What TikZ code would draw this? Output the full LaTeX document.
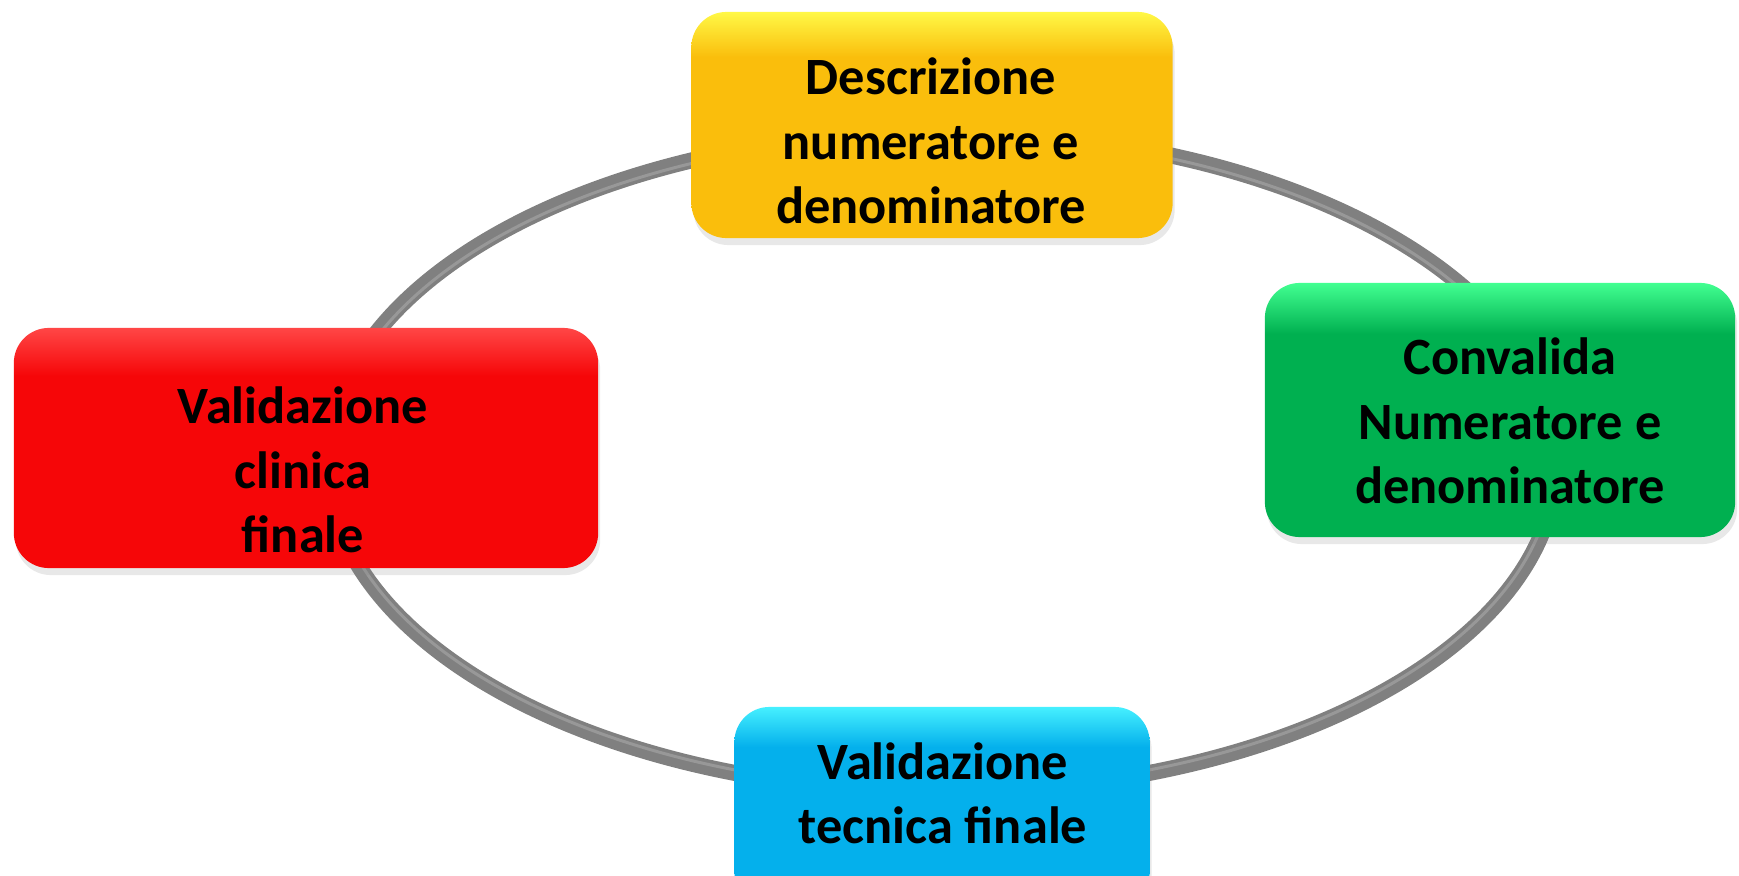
\documentclass[tikz,border=0pt]{standalone}
\usepackage{fontspec}
\setmainfont{Carlito}
\usetikzlibrary{positioning,shadows}

\definecolor{goldbase}{RGB}{250,190,12}
\definecolor{goldtop}{RGB}{255,248,70}
\definecolor{greenbase}{RGB}{0,176,80}
\definecolor{greentop}{RGB}{66,255,145}
\definecolor{redbase}{RGB}{246,6,8}
\definecolor{redtop}{RGB}{255,70,70}
\definecolor{bluebase}{RGB}{4,176,236}
\definecolor{bluetop}{RGB}{70,240,255}
\definecolor{ringgray}{RGB}{128,128,128}
\definecolor{ringlight}{RGB}{152,152,152}

\pgfdeclareverticalshading{glossgold}{100bp}{color(0bp)=(goldbase); color(25bp)=(goldbase); color(65bp)=(goldbase); color(75bp)=(goldtop); color(100bp)=(goldtop)}
\pgfdeclareverticalshading{glossgreen}{100bp}{color(0bp)=(greenbase); color(25bp)=(greenbase); color(65bp)=(greenbase); color(75bp)=(greentop); color(100bp)=(greentop)}
\pgfdeclareverticalshading{glossred}{100bp}{color(0bp)=(redbase); color(25bp)=(redbase); color(65bp)=(redbase); color(75bp)=(redtop); color(100bp)=(redtop)}
\pgfdeclareverticalshading{glossblue}{100bp}{color(0bp)=(bluebase); color(25bp)=(bluebase); color(65bp)=(bluebase); color(75bp)=(bluetop); color(100bp)=(bluetop)}

\tikzset{
	stage/.style={rounded corners=0.35cm, inner sep=0pt, shade,
		drop shadow={opacity=0.18, shadow xshift=0.02cm, shadow yshift=-0.07cm}},
	lbl/.style={align=center, inner sep=0pt, font=\fontsize{14.9}{18.3}\selectfont\bfseries},
}

\begin{document}
\begin{tikzpicture}[x=0.01cm,y=-0.01cm]
		\useasboundingbox (0,0) rectangle (1739,876);
		\clip (0,0) rectangle (1739,876);
		\draw[ringgray, line width=0.16cm] (942,462) ellipse [x radius=6.14cm, y radius=3.3cm];
		\draw[ringlight, line width=0.03cm] (942,462) ellipse [x radius=6.11cm, y radius=3.27cm];
		
		\node[stage, shading=glossgold, minimum width=4.81cm, minimum height=2.26cm] (desc) at (932,125) {};
		\node[stage, shading=glossgreen, minimum width=4.70cm, minimum height=2.54cm] (conv) at (1500,410) {};
		\node[stage, shading=glossred, minimum width=5.84cm, minimum height=2.40cm] (valc) at (306,448) {};
		\node[stage, shading=glossblue, minimum width=4.15cm, minimum height=2.00cm] (valt) at (942,807) {};
		
		\node[lbl] (desctxt) at (931,141) {Descrizione\\numeratore e\\denominatore};
		\node[lbl] (convtxt) at (1510,421) {Convalida\\Numeratore e\\denominatore};
		\node[lbl] (valctxt) at (303,470) {Validazione\\clinica\\finale};
		\node[lbl] (valttxt) at (943,793) {Validazione\\tecnica finale};
\end{tikzpicture}
\end{document}
